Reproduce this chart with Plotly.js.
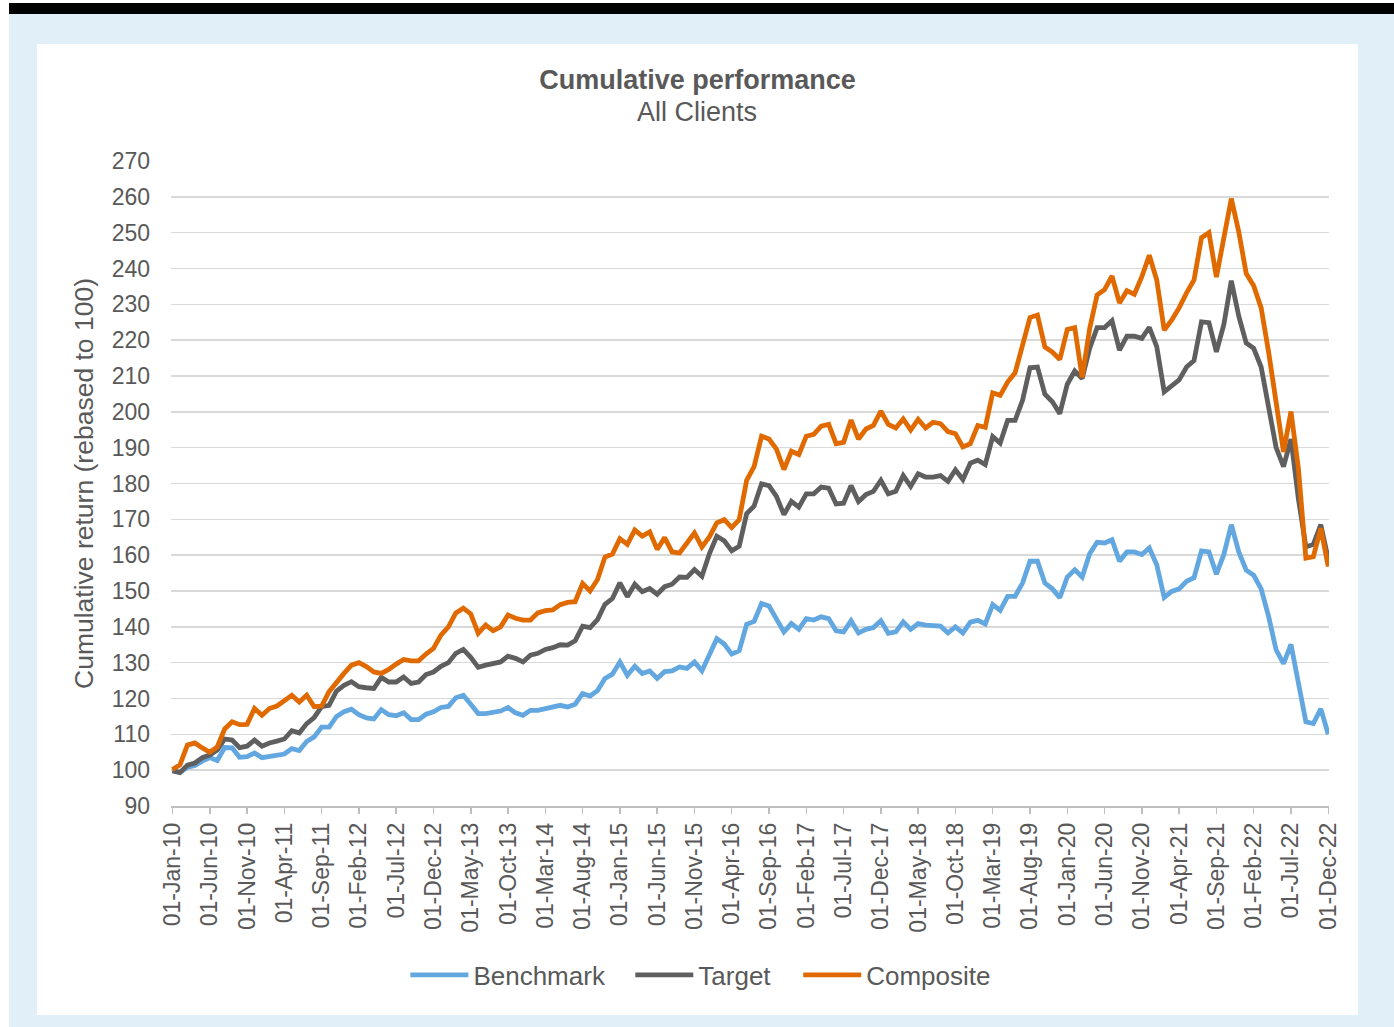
<!DOCTYPE html>
<html>
<head>
<meta charset="utf-8">
<script src="https://cdn.plot.ly/plotly-3.0.1.min.js"></script>
<style>
  html, body { margin: 0; padding: 0; background: #ffffff; width: 1394px; height: 1027px; overflow: hidden; }
  #band { position: absolute; left: 9px; top: 3px; width: 1385px; height: 11px; background: #000000; }
  #bg { position: absolute; left: 9px; top: 14px; width: 1385px; height: 1013px; background: #e1eff9; }
  #chart { position: absolute; left: 37px; top: 44px; width: 1321px; height: 971px; background: #ffffff; }
</style>
</head>
<body>
<div id="band"></div>
<div id="bg"></div>
<div id="chart"></div>
<script>
// Monthly categories Jan-2010 .. Dec-2022
const monthNames = ['Jan','Feb','Mar','Apr','May','Jun','Jul','Aug','Sep','Oct','Nov','Dec'];
const categories = [];
for (let y = 10; y <= 22; y++) {
  for (let m = 0; m < 12; m++) categories.push('01-' + monthNames[m] + '-' + String(y).padStart(2, '0'));
}

const tickLabels = ['01-Jan-10','01-Jun-10','01-Nov-10','01-Apr-11','01-Sep-11','01-Feb-12','01-Jul-12','01-Dec-12',
  '01-May-13','01-Oct-13','01-Mar-14','01-Aug-14','01-Jan-15','01-Jun-15','01-Nov-15','01-Apr-16','01-Sep-16',
  '01-Feb-17','01-Jul-17','01-Dec-17','01-May-18','01-Oct-18','01-Mar-19','01-Aug-19','01-Jan-20','01-Jun-20',
  '01-Nov-20','01-Apr-21','01-Sep-21','01-Feb-22','01-Jul-22','01-Dec-22'];

const yTicks = [90,100,110,120,130,140,150,160,170,180,190,200,210,220,230,240,250,260,270];

const benchmark = [
  100,99.4,100.8,101.3,102.5,103.5,102.7,106.3,106.2,103.6,103.8,104.8,
  103.5,103.9,104,104.5,106,105.5,108,109.3,112,112,115,116.3,
  117,115.5,114.6,114.3,116.9,115.5,115.2,116,114.1,114.1,115.6,116.3,
  117.5,117.8,120.2,120.9,118.4,115.8,115.8,116,116.5,117.5,116,115.3,
  116.7,116.7,117.2,117.7,118.1,117.6,118.4,121.4,120.7,122.2,125.6,126.8,
  130.2,126.5,129,127,127.7,125.6,127.5,127.7,128.8,128.4,130.2,127.7,
  132.1,136.7,135.2,132.4,133.3,140.7,141.5,146.5,145.8,142.3,138.6,140.9,
  139.3,142.3,141.9,142.8,142.3,138.9,138.6,141.7,138.3,139.3,139.8,141.7,
  138.2,138.6,141.4,139.3,140.9,140.5,140.5,140.2,138.3,140,138.3,141.3,
  141.8,140.8,146.2,144.6,148.5,148.5,152.2,158.3,158.3,152.2,150.6,148.1,
  153.9,155.9,153.9,160.4,163.6,163.4,164.3,158.3,160.9,160.9,160.2,162,
  157.3,148.2,149.9,150.6,152.7,153.7,161.2,160.9,154.7,160.2,168.5,160.9,
  155.8,154.4,150.6,142.9,133.6,129.7,135.1,124.3,113.5,113,117.1,110
];

const target = [
  99.8,99.3,101.4,102,103.5,104.2,105.6,108.7,108.4,106.3,106.7,108.4,
  106.7,107.6,108.1,108.7,111,110.4,113,114.7,117.7,118.1,122.1,123.7,
  124.7,123.3,123,122.8,125.9,124.6,124.6,126,124.2,124.6,126.7,127.4,
  129,130,132.6,133.7,131.5,128.7,129.3,129.6,130.2,131.8,131.2,130.2,
  132.1,132.6,133.7,134.2,135,134.9,136.1,140.2,139.8,142,146.3,147.9,
  152.3,148.4,151.9,149.8,150.7,149.1,151.2,151.9,153.9,153.8,156,154.1,
  160.4,165.3,164,161.2,162.5,171.6,173.7,179.9,179.4,176.4,171.3,175,
  173.4,177.1,177.1,179,178.7,174.3,174.5,179.4,175,176.9,177.8,180.9,
  177.1,177.8,182.2,179.2,182.7,181.8,181.8,182.2,180.6,183.8,181.1,185.7,
  186.5,185.3,193.1,191.3,197.6,197.6,203.2,212.3,212.5,204.9,202.8,199.5,
  207.7,211.4,209.3,217.7,223.5,223.5,225.4,217.2,221.1,221.1,220.5,223.6,
  218.2,205.6,207.4,208.9,212.5,214.3,225.1,224.9,216.7,224.4,236.6,226.7,
  219.2,217.7,212.5,201.7,190.1,184.7,192.4,175.7,162.3,163,168.5,158.9
];

const composite = [
  100.2,101.5,107,107.6,106.2,105,106.5,111.5,113.5,112.7,112.8,117.2,
  115.3,117.2,117.9,119.3,120.9,119,120.9,117.7,117.9,121.9,124.7,127,
  129.3,130,128.9,127.4,127,128.1,129.6,130.9,130.5,130.5,132.4,134,
  137.7,140,143.9,145.2,143.6,138.2,140.5,138.9,140,143.3,142.4,141.9,
  141.9,143.9,144.5,144.7,146.2,146.8,147,152.1,150,153.2,159.5,160.3,
  164.6,163,167,165.3,166.5,161.6,164.9,160.9,160.6,163.4,166.2,162.3,
  165.1,169,169.9,167.7,169.9,180.9,184.7,193.2,192.4,189.6,183.9,189,
  188.1,193.2,193.7,196,196.5,191.1,191.5,197.7,192.4,195.2,196.2,200.2,
  196.5,195.5,198,194.9,197.9,195.5,197.1,196.7,194.5,193.9,190.2,191.1,
  196.2,195.7,205.3,204.6,208.3,210.9,218.6,226.3,227,218.1,216.7,214.6,
  223,223.5,209.6,223.2,232.6,234.1,237.9,230.4,233.8,232.8,237.7,243.7,
  236.8,222.8,225.6,229,233.2,236.8,248.6,250,237.6,248.1,259.5,250.2,
  238.6,235.2,229,216.7,202.8,188.8,200.1,184.1,159.2,159.6,167.5,156.8
];

const seriesNames = ['Benchmark','Target','Composite'];
const seriesColors = ['#62a7df','#5f5f5f','#e06a00'];
const seriesData = [benchmark, target, composite];
const legendIds = ['legend','legend2','legend3'];

const font = "'Liberation Sans', Arial, sans-serif";
const textColor = '#595959';

const traces = seriesData.map((vals, k) => ({
  type: 'scatter',
  mode: 'lines',
  name: seriesNames[k],
  legend: legendIds[k],
  x: categories,
  y: vals,
  line: { color: seriesColors[k], width: 4.8, shape: 'linear' },
  hoverinfo: 'x+y+name'
}));

// chart div: 1321 x 971; plot area from x=133.5 to 1292, y=117 to 762
const plotL = 133.5, plotW = 1158.5;
function paperX(divX) { return (divX - plotL) / plotW; }
const legendBase = {
  orientation: 'h',
  xanchor: 'left', xref: 'paper',
  y: 1 - 931 / 971, yanchor: 'middle', yref: 'container',
  font: { family: font, size: 26, color: textColor },
  itemwidth: 58,
  bgcolor: 'rgba(0,0,0,0)',
  borderwidth: 0
};
// desired line starts (page px) 412, 637, 805 -> div px minus 37
const legendStarts = [412, 637, 805];

const layout = {
  width: 1321,
  height: 971,
  paper_bgcolor: '#ffffff',
  plot_bgcolor: '#ffffff',
  font: { family: font, color: textColor, size: 23 },
  margin: { l: plotL, r: 29, t: 117, b: 209, pad: 0 },
  title: {
    text: '<b>Cumulative performance</b>',
    font: { family: font, size: 27, color: textColor },
    x: 0.5, xref: 'container', xanchor: 'center',
    y: 1 - 36 / 971, yref: 'container', yanchor: 'middle'
  },
  annotations: [{
    text: 'All Clients',
    xref: 'paper', yref: 'paper',
    x: paperX(660), y: (762 - 68) / 645,
    xanchor: 'center', yanchor: 'middle',
    showarrow: false,
    font: { family: font, size: 27, color: textColor }
  }],
  xaxis: {
    type: 'category',
    range: [-0.2, 155.1],
    tickmode: 'array',
    tickvals: tickLabels,
    ticktext: tickLabels,
    tickangle: -90,
    tickfont: { family: font, size: 23, color: textColor },
    ticks: 'outside',
    ticklen: 6,
    tickwidth: 1.5,
    tickcolor: '#bfbfbf',
    showline: true,
    linecolor: '#bfbfbf',
    linewidth: 1.5,
    showgrid: false,
    zeroline: false,
    automargin: false,
    fixedrange: true
  },
  yaxis: {
    range: [90, 270],
    tickmode: 'array',
    tickvals: yTicks,
    ticktext: yTicks.map(String),
    tickfont: { family: font, size: 23, color: textColor },
    ticks: '',
    ticklabelstandoff: 20,
    showgrid: true,
    gridcolor: '#d9d9d9',
    gridwidth: 1.5,
    showline: false,
    zeroline: false,
    automargin: false,
    title: {
      text: 'Cumulative return (rebased to 100)',
      font: { family: font, size: 26.5, color: textColor },
      standoff: 10
    },
    fixedrange: true
  },
  showlegend: true,
  legend: Object.assign({}, legendBase, { x: paperX(legendStarts[0] - 37 - 7) }),
  legend2: Object.assign({}, legendBase, { x: paperX(legendStarts[1] - 37 - 7) }),
  legend3: Object.assign({}, legendBase, { x: paperX(legendStarts[2] - 37 - 7) })
};

Plotly.newPlot('chart', traces, layout, { displayModeBar: false, staticPlot: true });
</script>
</body>
</html>
